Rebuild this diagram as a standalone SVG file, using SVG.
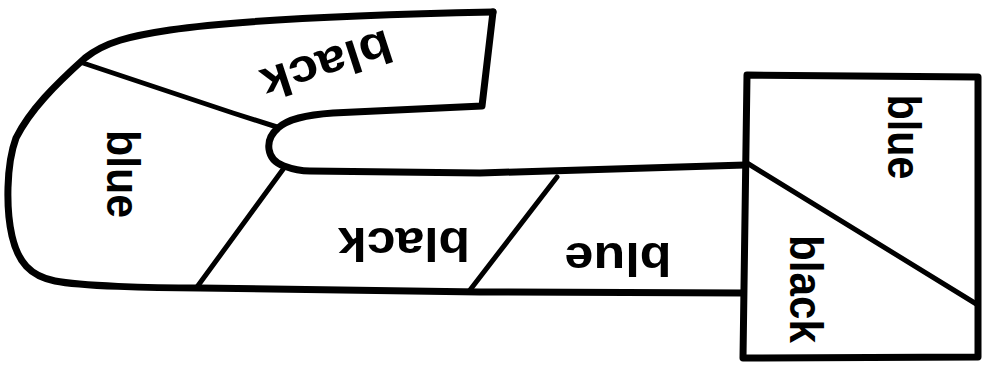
<svg xmlns="http://www.w3.org/2000/svg" width="992" height="371" viewBox="0 0 992 371">
<style>
.o{fill:none;stroke:#000;stroke-width:7;stroke-linejoin:round;stroke-linecap:round}
.d{fill:none;stroke:#000;stroke-width:5;stroke-linecap:round}
.t{font-family:"Liberation Sans",Arial,sans-serif;font-weight:bold;font-size:46px;fill:#000;text-anchor:middle}
</style>
<rect width="992" height="371" fill="#fff"/>
<g id="shape">
<path class="o" d="M493,12 L482,106 L333,113 C305,115 288,119 278,128 C264,140 266,160 284,166 C292,169 300,171 310,171 L480,173 L745,165"/>
<path class="o" d="M493,12 C400,14 250,18 170,30 C130,36 105,42 85,58 C55,85 30,110 16,138 C6,165 6,210 12,236 C18,262 30,276 55,281 C80,286 150,288 200,288 L480,292 L743,293"/>
<path class="o" d="M747,75 L978,77 L978,357 L743,358 Z"/>
</g>
<g id="dividers">
<path class="d" d="M83,63 L233,113 L277,127"/>
<path class="d" d="M284,168 L197,287"/>
<path class="d" d="M557,177 L470,290"/>
<path class="d" d="M747,163 L978,305"/>
</g>
<g id="labels">
<text class="t" transform="translate(322,50) rotate(162)" textLength="135" lengthAdjust="spacingAndGlyphs">black</text>
<text class="t" transform="translate(107,174) rotate(90)" textLength="88" lengthAdjust="spacingAndGlyphs">blue</text>
<text class="t" transform="translate(404,228) rotate(180)" textLength="132" lengthAdjust="spacingAndGlyphs">black</text>
<text class="t" transform="translate(618,243) rotate(180)" textLength="107" lengthAdjust="spacingAndGlyphs">blue</text>
<text class="t" transform="translate(888,137) rotate(90)" textLength="85" lengthAdjust="spacingAndGlyphs">blue</text>
<text class="t" transform="translate(790,289) rotate(90)" textLength="108" lengthAdjust="spacingAndGlyphs">black</text>
</g>
</svg>
